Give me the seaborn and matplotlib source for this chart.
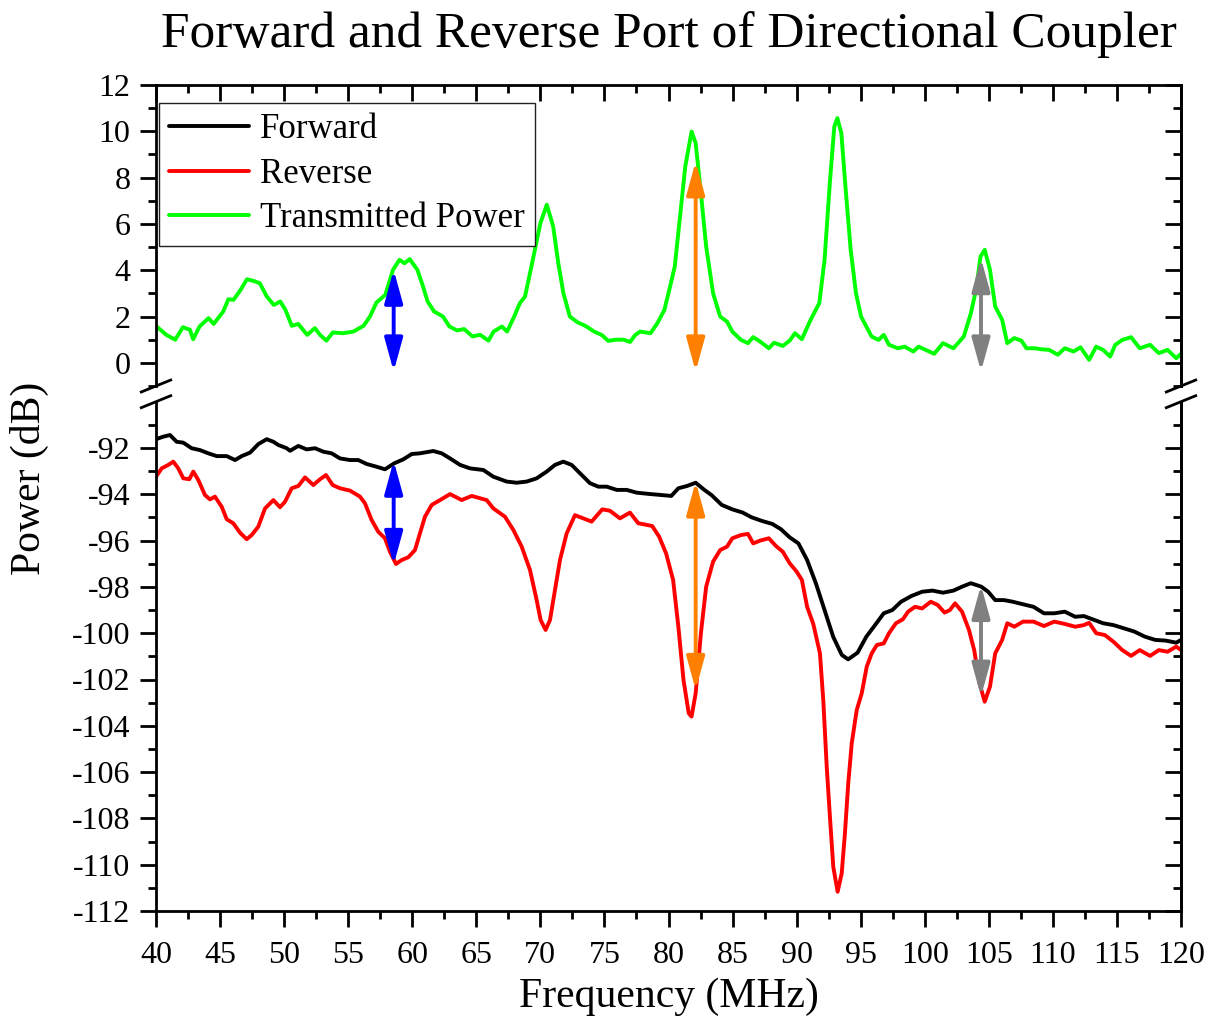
import numpy as np
import pandas as pd
import matplotlib
matplotlib.use("Agg")
import matplotlib.pyplot as plt
import seaborn as sns
from matplotlib.ticker import MultipleLocator, FixedLocator
from matplotlib.patches import FancyArrowPatch, ArrowStyle
from matplotlib.lines import Line2D

# ---------------- data ----------------
trans_freq = [40.05, 40.8, 41.5, 42.1, 42.65, 42.9, 43.4, 44.1, 44.5, 45.25,
              45.65, 46.05, 46.6, 47.1, 47.6, 48.1, 48.65, 49.2, 49.7, 50.1,
              50.6, 51.1, 51.8, 52.4, 52.8, 53.3, 53.8, 54.6, 55.4, 56.2,
              56.7, 57.2, 57.9, 58.5, 59.0, 59.4, 59.8, 60.4, 60.8, 61.2,
              61.7, 62.4, 62.9, 63.5, 64.05, 64.7, 65.3, 65.95, 66.35, 67.0,
              67.4, 67.9, 68.4, 68.8, 69.3, 70.0, 70.5, 71.0, 71.4, 71.8,
              72.3, 72.9, 73.5, 74.2, 74.8, 75.3, 75.9, 76.5, 77.0, 77.4,
              77.78, 78.6, 79.13, 79.68, 80.09, 80.49, 80.9, 81.31, 81.8, 82.12,
              82.53, 82.94, 83.48, 84.03, 84.57, 84.98, 85.66, 86.2, 86.61, 87.15,
              87.83, 88.24, 88.92, 89.46, 89.87, 90.41, 91.09, 91.77, 92.18, 92.59,
              92.94, 93.18, 93.49, 93.81, 94.22, 94.63, 95.03, 95.44, 95.85, 96.39,
              96.8, 97.21, 97.89, 98.43, 99.11, 99.52, 100.2, 100.74, 101.42, 102.24,
              103.05, 103.6, 104.0, 104.35, 104.68, 105.09, 105.5, 106.04, 106.44, 106.99,
              107.54, 107.94, 108.62, 109.03, 109.71, 110.38, 110.93, 111.61, 112.16, 112.83,
              113.38, 113.92, 114.47, 114.87, 115.42, 116.1, 116.78, 117.59, 118.27, 118.95,
              119.63, 120.0]
trans_db = [1.57, 1.21, 1.0, 1.54, 1.43, 1.02, 1.57, 1.93, 1.68, 2.22,
            2.75, 2.72, 3.15, 3.61, 3.54, 3.44, 2.86, 2.5, 2.65, 2.29,
            1.6, 1.68, 1.21, 1.5, 1.21, 0.96, 1.31, 1.28, 1.35, 1.6,
            2.0, 2.6, 2.94, 4.02, 4.45, 4.3, 4.48, 4.02, 3.37, 2.65,
            2.22, 2.0, 1.57, 1.4, 1.46, 1.14, 1.21, 0.96, 1.35, 1.57,
            1.35, 1.93, 2.58, 2.86, 4.16, 6.03, 6.83, 5.89, 4.3, 3.0,
            2.0, 1.75, 1.6, 1.35, 1.2, 0.95, 1.0, 1.0, 0.9, 1.2,
            1.35, 1.28, 1.71, 2.29, 3.22, 4.16, 6.32, 8.48, 9.99, 9.49,
            7.33, 5.02, 3.01, 2.0, 1.78, 1.35, 0.99, 0.85, 1.11, 0.92,
            0.63, 0.87, 0.73, 0.96, 1.28, 1.02, 1.86, 2.58, 4.45, 7.76,
            10.2, 10.57, 9.92, 7.62, 4.88, 3.01, 2.0, 1.57, 1.14, 0.99,
            1.21, 0.78, 0.63, 0.7, 0.49, 0.7, 0.53, 0.39, 0.85, 0.63,
            1.14, 2.14, 3.15, 4.59, 4.88, 4.02, 2.43, 1.86, 0.85, 1.07,
            0.96, 0.63, 0.63, 0.59, 0.56, 0.35, 0.63, 0.49, 0.67, 0.13,
            0.7, 0.56, 0.27, 0.78, 0.99, 1.11, 0.63, 0.78, 0.42, 0.56,
            0.2, 0.39]

fwd_freq = [40.0, 40.57, 41.09, 41.61, 42.13, 42.78, 43.43, 44.08, 44.74, 45.52,
            46.17, 46.69, 47.34, 47.99, 48.64, 49.16, 49.55, 50.2, 50.46, 51.11,
            51.76, 52.41, 53.06, 53.71, 54.36, 55.14, 55.79, 56.44, 57.22, 57.87,
            58.6, 59.3, 59.96, 60.6, 61.64, 62.3, 62.95, 63.73, 64.51, 65.55,
            66.33, 67.37, 68.15, 68.93, 69.71, 70.49, 71.14, 71.79, 72.44, 73.09,
            73.87, 74.52, 75.18, 75.96, 76.74, 77.52, 78.59, 79.41, 80.22, 80.77,
            81.45, 82.12, 82.8, 83.35, 84.16, 84.98, 85.79, 86.47, 87.29, 88.1,
            88.78, 89.46, 90.14, 90.82, 91.5, 92.18, 92.85, 93.53, 94.02, 94.76,
            95.44, 96.12, 96.8, 97.47, 98.15, 98.97, 99.79, 100.6, 101.42, 102.24,
            102.91, 103.6, 104.41, 104.95, 105.5, 106.18, 106.86, 107.67, 108.49, 109.3,
            110.11, 110.93, 111.74, 112.42, 113.1, 113.92, 114.73, 115.55, 116.36, 117.18,
            117.99, 118.81, 119.63, 120.0]
fwd_db = [-91.62, -91.51, -91.44, -91.73, -91.77, -92.01, -92.09, -92.23, -92.35, -92.35,
          -92.52, -92.35, -92.2, -91.83, -91.62, -91.73, -91.87, -92.01, -92.12, -91.91,
          -92.06, -92.01, -92.16, -92.23, -92.45, -92.52, -92.52, -92.69, -92.81, -92.92,
          -92.66, -92.49, -92.26, -92.23, -92.13, -92.23, -92.45, -92.73, -92.88, -92.95,
          -93.24, -93.45, -93.5, -93.45, -93.31, -93.02, -92.73, -92.59, -92.73, -93.09,
          -93.52, -93.67, -93.67, -93.81, -93.81, -93.93, -93.99, -94.03, -94.07, -93.74,
          -93.64, -93.5, -93.81, -94.03, -94.46, -94.65, -94.79, -94.99, -95.15, -95.28,
          -95.51, -95.86, -96.12, -96.84, -97.84, -99.0, -100.15, -100.94, -101.13, -100.84,
          -100.15, -99.65, -99.14, -99.0, -98.64, -98.39, -98.21, -98.16, -98.25, -98.16,
          -97.99, -97.84, -97.99, -98.21, -98.57, -98.57, -98.64, -98.75, -98.86, -99.14,
          -99.14, -99.07, -99.29, -99.26, -99.4, -99.57, -99.65, -99.79, -99.93, -100.15,
          -100.29, -100.32, -100.41, -100.29]

rev_freq = [40.0, 40.44, 40.96, 41.35, 41.74, 42.13, 42.6, 42.91, 43.3, 43.82,
            44.21, 44.6, 45.13, 45.52, 46.03, 46.56, 47.08, 47.47, 47.98, 48.51,
            49.16, 49.68, 50.07, 50.59, 51.11, 51.63, 52.28, 52.8, 53.27, 53.79,
            54.36, 55.14, 55.92, 56.31, 56.83, 57.35, 57.87, 58.26, 58.73, 59.17,
            59.69, 60.21, 60.6, 60.99, 61.52, 62.17, 62.95, 63.86, 64.64, 65.29,
            65.81, 66.33, 67.24, 67.89, 68.54, 69.19, 69.71, 70.02, 70.41, 70.75,
            71.14, 71.53, 72.05, 72.7, 73.35, 74.0, 74.83, 75.43, 76.21, 76.99, 77.64,
            78.73, 79.27, 79.81, 80.36, 80.77, 81.17, 81.58, 81.8, 82.12, 82.53,
            82.94, 83.48, 84.03, 84.57, 84.98, 85.66, 86.2, 86.61, 87.15, 87.83,
            88.38, 88.92, 89.46, 90.0, 90.41, 90.82,
            91.3, 91.82, 92.08, 92.35, 92.6, 92.86, 93.2, 93.52, 93.77, 94.03,
            94.3, 94.69, 95.08, 95.47, 95.86,
            96.26, 96.8, 97.21, 97.75, 98.29, 98.7, 99.24, 99.79, 100.47, 101.01,
            101.55, 101.96, 102.37, 102.91, 103.45, 103.86, 104.27, 104.68, 105.09, 105.5,
            106.04, 106.44, 106.99, 107.67, 108.49, 109.3, 110.11, 110.93, 111.74, 112.42,
            112.83, 113.38, 114.06, 114.73, 115.42, 116.1, 116.78, 117.59, 118.27, 118.95,
            119.63, 120.0]
rev_db = [-93.24, -92.88, -92.73, -92.59, -92.88, -93.31, -93.35, -93.02, -93.38, -94.03,
          -94.22, -94.1, -94.54, -95.08, -95.25, -95.66, -95.94, -95.76, -95.4, -94.61,
          -94.25, -94.56, -94.32, -93.74, -93.64, -93.27, -93.6, -93.35, -93.17, -93.6,
          -93.74, -93.84, -94.1, -94.39, -95.11, -95.62, -95.9, -96.48, -97.01, -96.84,
          -96.72, -96.41, -95.69, -94.97, -94.46, -94.25, -93.99, -94.25, -94.07, -94.17,
          -94.25, -94.61, -94.97, -95.54, -96.26, -97.27, -98.57, -99.43, -99.86, -99.43,
          -98.13, -96.84, -95.69, -94.9, -95.04, -95.18, -94.65, -94.71, -95.04, -94.79, -95.25,
          -95.37, -95.83, -96.55, -97.7, -99.72, -102.02, -103.46, -103.6, -102.6, -100.0,
          -97.99, -96.91, -96.41, -96.26, -95.9, -95.76, -95.71, -96.12, -96.0, -95.9,
          -96.23, -96.48, -96.98, -97.34, -97.7, -98.86,
          -99.6, -100.87, -102.89, -105.77, -107.93, -110.09, -111.17, -110.37, -108.65, -106.48,
          -104.76, -103.32, -102.6, -101.45, -100.87,
          -100.51, -100.44, -100.0, -99.57, -99.4, -99.07, -98.86, -98.93, -98.64, -98.78,
          -99.11, -99.0, -98.71, -99.07, -99.86, -100.73, -102.16, -102.96, -102.31, -100.87,
          -100.29, -99.57, -99.72, -99.5, -99.5, -99.69, -99.5, -99.6, -99.72, -99.65,
          -99.55, -100.0, -100.08, -100.37, -100.73, -100.98, -100.73, -100.98, -100.73, -100.8,
          -100.58, -100.73]

arrow_freq = [58.55, 82.12, 104.39]
arrow_colors = ["#0000FF", "#FF8000", "#808080"]
arrow_upper_top = [4.02, 8.7, 4.52]
arrow_upper_bottom = [-0.37, -0.37, -0.37]
arrow_lower_top = [-92.55, -93.45, -97.92]
arrow_lower_bottom = [-97.05, -102.45, -102.74]

x_ticks = list(range(40, 121, 5))
upper_yticks = list(range(0, 13, 2))
lower_yticks = list(range(-112, -91, 2))

title_text = "Forward and Reverse Port of Directional Coupler"
x_label = "Frequency (MHz)"
y_label = "Power (dB)"
series_names = ["Forward", "Reverse", "Transmitted Power"]

# ---------------- style ----------------
sns.set_style("ticks")
plt.rcParams["font.family"] = ["Liberation Serif", "DejaVu Serif"]
plt.rcParams["axes.unicode_minus"] = False
plt.rcParams["axes.linewidth"] = 2.0
for k in ("text.color", "axes.labelcolor", "xtick.color", "ytick.color",
          "axes.edgecolor", "xtick.labelcolor", "ytick.labelcolor"):
    plt.rcParams[k] = "black"

W, H = 1210, 1018
fig = plt.figure(figsize=(W / 100, H / 100), dpi=100)
left, width = 156 / W, (1181 - 156) / W
ax_top = fig.add_axes([left, 1 - 386 / H, width, (386 - 85) / H])
ax_bot = fig.add_axes([left, 1 - 911 / H, width, (911 - 401.7) / H])

df_t = pd.DataFrame({"f": trans_freq, "p": trans_db})
df_f = pd.DataFrame({"f": fwd_freq, "p": fwd_db})
df_r = pd.DataFrame({"f": rev_freq, "p": rev_db})

lw = 2.8
sns.lineplot(data=df_f, x="f", y="p", ax=ax_bot, color="black", lw=lw,
             estimator=None, sort=False, label=series_names[0])
sns.lineplot(data=df_r, x="f", y="p", ax=ax_bot, color="#FF0000", lw=lw,
             estimator=None, sort=False, label=series_names[1])
sns.lineplot(data=df_t, x="f", y="p", ax=ax_top, color="#00FF00", lw=lw,
             estimator=None, sort=False, label=series_names[2])
for a in (ax_top, ax_bot):
    if a.get_legend() is not None:
        a.get_legend().remove()
    a.set_xlabel("")
    a.set_ylabel("")
    a.set_xlim(40, 120)

ax_top.set_ylim(-1, 12)
ax_bot.set_ylim(-112, -90)

# arrows
style = ArrowStyle("<|-|>", head_length=20, head_width=5.5)
for xf, c, t0, b0, t1, b1 in zip(arrow_freq, arrow_colors, arrow_upper_top,
                                 arrow_upper_bottom, arrow_lower_top, arrow_lower_bottom):
    for a, yt, yb in ((ax_top, t0, b0), (ax_bot, t1, b1)):
        p = FancyArrowPatch((xf, yb), (xf, yt), arrowstyle=style, mutation_scale=1,
                            lw=2.8, color=c, shrinkA=0, shrinkB=0, zorder=5)
        a.add_patch(p)

# spines
ax_top.spines["bottom"].set_visible(False)
ax_bot.spines["top"].set_visible(False)
for a in (ax_top, ax_bot):
    for s in a.spines.values():
        s.set_linewidth(2.0)
        s.set_color("black")

tick_fs = 23
maj_len, min_len, tw = 11.5, 6, 2.0
# x axis
ax_bot.xaxis.set_major_locator(FixedLocator(x_ticks))
ax_bot.xaxis.set_minor_locator(MultipleLocator(2.5))
ax_top.xaxis.set_major_locator(FixedLocator(x_ticks))
ax_top.xaxis.set_minor_locator(MultipleLocator(2.5))
ax_bot.tick_params(axis="x", which="both", bottom=True, top=False, direction="out",
                   labelsize=tick_fs, width=tw, pad=10)
ax_bot.tick_params(axis="x", which="major", length=maj_len)
ax_bot.tick_params(axis="x", which="minor", length=min_len)
ax_top.tick_params(axis="x", which="both", bottom=False, top=True, labelbottom=False,
                   labeltop=False, direction="in", width=tw)
ax_top.tick_params(axis="x", which="major", length=maj_len)
ax_top.tick_params(axis="x", which="minor", length=min_len)

# y axis
ax_top.yaxis.set_major_locator(FixedLocator(upper_yticks))
ax_top.yaxis.set_minor_locator(FixedLocator(list(range(-1, 12, 2))))
ax_bot.yaxis.set_major_locator(FixedLocator(lower_yticks))
ax_bot.yaxis.set_minor_locator(FixedLocator(list(range(-111, -90, 2))))
for a in (ax_top, ax_bot):
    a.tick_params(axis="y", which="both", left=True, right=False, direction="out",
                  labelsize=tick_fs, width=tw, pad=7)
    a.tick_params(axis="y", which="major", length=maj_len)
    a.tick_params(axis="y", which="minor", length=min_len)
    sec = a.secondary_yaxis("right")
    sec.yaxis.set_major_locator(a.yaxis.get_major_locator())
    sec.yaxis.set_minor_locator(a.yaxis.get_minor_locator())
    sec.tick_params(axis="y", which="both", direction="in", labelright=False, width=tw,
                    color="black")
    sec.tick_params(axis="y", which="major", length=maj_len)
    sec.tick_params(axis="y", which="minor", length=min_len)
    sec.spines["right"].set_linewidth(2.0)
    sec.spines["right"].set_color("black")

# break marks (centred on the spine ends)
dxp, dyp = 16, 6.5
for a, yc in ((ax_top, 0.0), (ax_bot, 1.0)):
    bb = a.get_position()
    axw, axh = bb.width * W, bb.height * H
    for xc in (0.0, 1.0):
        a.plot([xc - dxp / axw, xc + dxp / axw], [yc - dyp / axh, yc + dyp / axh],
               transform=a.transAxes, color="black", lw=2.0, clip_on=False,
               solid_capstyle="butt", zorder=10)

# legend
handles = ax_bot.get_lines()[:2] + ax_top.get_lines()[:1]
handles = [Line2D([], [], color=h.get_color(), lw=lw) for h in handles]
leg = ax_top.legend(handles, series_names, loc="upper left",
                    bbox_to_anchor=(3 / 1025, 1 - 18 / 301), borderaxespad=0,
                    fontsize=25, frameon=True, fancybox=False, framealpha=1,
                    edgecolor="#222222", handlelength=2.3, handletextpad=0.3,
                    labelspacing=0.33, borderpad=0.3)
leg.get_frame().set_linewidth(1.0)

# texts
cx = (156 + 1181) / 2 / W
fig.text(cx, 1 - 35 / H, title_text, ha="center", va="center", fontsize=37)
fig.text(cx, 1 - 1007 / H, x_label, ha="center", va="baseline", fontsize=30)
fig.text(29 / W, 1 - 478 / H, y_label, ha="center", va="center", rotation=90, fontsize=30)

fig.savefig("out.png", dpi=100)
